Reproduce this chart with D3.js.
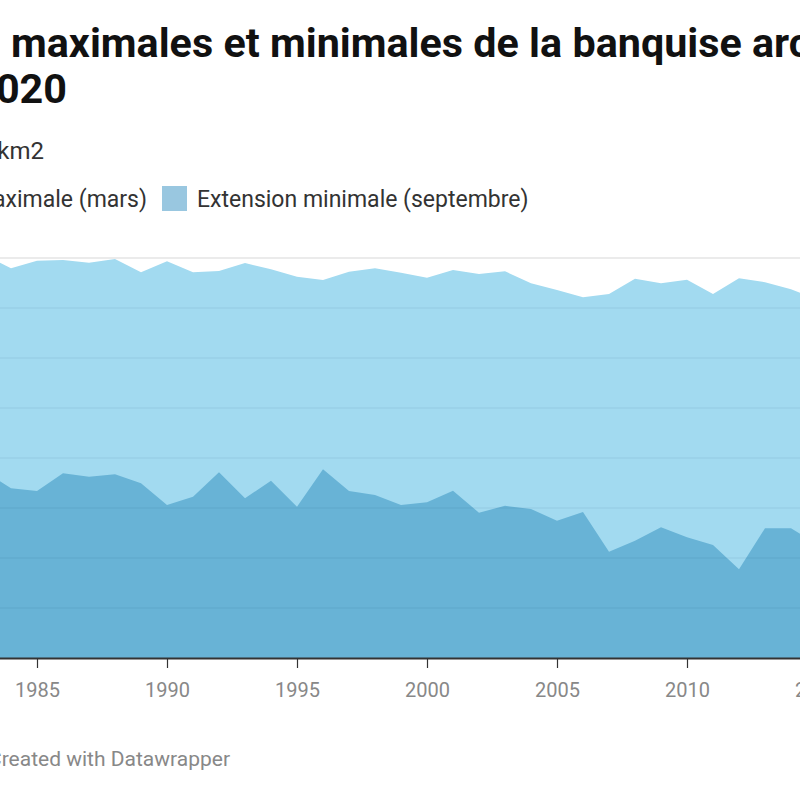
<!DOCTYPE html>
<html>
<head>
<meta charset="utf-8">
<script src="https://cdn.jsdelivr.net/npm/d3@7"></script>
<style>
  html, body { margin: 0; padding: 0; background: #fff; overflow: hidden; }
  svg { display: block; font-family: Roboto, "Noto Sans", sans-serif; }
</style>
</head>
<body>
<svg id="chart" width="800" height="800"></svg>
<script>
// Extension de la banquise arctique, millions de km2
const years = [1979, 1980, 1981, 1982, 1983, 1984, 1985, 1986, 1987, 1988, 1989,
  1990, 1991, 1992, 1993, 1994, 1995, 1996, 1997, 1998, 1999,
  2000, 2001, 2002, 2003, 2004, 2005, 2006, 2007, 2008, 2009,
  2010, 2011, 2012, 2013, 2014, 2015, 2016, 2017, 2018, 2019, 2020];

const maxMars = [16.3, 16.0, 15.6, 16.0, 16.1, 15.59, 15.89, 15.92, 15.81, 15.96, 15.43,
  15.87, 15.43, 15.48, 15.80, 15.55, 15.25, 15.12, 15.45, 15.59, 15.41,
  15.21, 15.52, 15.36, 15.47, 14.99, 14.72, 14.43, 14.56, 15.17, 14.99,
  15.13, 14.56, 15.19, 15.03, 14.75, 14.35, 14.4, 14.4, 14.5, 14.55, 14.8];

const minSept = [7.05, 7.67, 7.14, 7.30, 7.45, 6.79, 6.68, 7.39, 7.25, 7.35, 6.99,
  6.12, 6.45, 7.43, 6.39, 7.09, 6.05, 7.55, 6.68, 6.52, 6.12,
  6.23, 6.69, 5.81, 6.09, 5.96, 5.49, 5.84, 4.25, 4.69, 5.23,
  4.83, 4.52, 3.55, 5.19, 5.19, 4.56, 4.5, 4.8, 4.7, 4.3, 3.9];

const xTicks = [1980, 1985, 1990, 1995, 2000, 2005, 2010, 2015, 2020];
const yTicks = [0, 2, 4, 6, 8, 10, 12, 14, 16];

const seriesNames = ["Extension maximale (mars)", "Extension minimale (septembre)"];
const colors = ["#a2daf0", "#68b3d6"];
const legendColors = ["#c3e6f5", "#99c7e0"];

const svg = d3.select("#chart");

// the chart is wider than the window, it is seen through an 800px crop
const plot = {left: -119, right: 947, top: 258, bottom: 658};

const x = d3.scaleLinear()
  .domain([1979, 2020])
  .range([plot.left, plot.right]);

const y = d3.scaleLinear()
  .domain([0, 16])
  .range([plot.bottom, plot.top]);

const data = years.map((yr, i) => ({year: yr, max: maxMars[i], min: minSept[i]}));

// top gridline on white
svg.append("line")
  .attr("x1", plot.left).attr("x2", plot.right)
  .attr("y1", y(16)).attr("y2", y(16))
  .attr("stroke", "#e5e5e5")
  .attr("stroke-width", 1.5);

const areaMax = d3.area()
  .x(d => x(d.year))
  .y0(y(0))
  .y1(d => y(d.max));

const areaMin = d3.area()
  .x(d => x(d.year))
  .y0(y(0))
  .y1(d => y(d.min));

svg.append("path")
  .datum(data)
  .attr("d", areaMax)
  .attr("fill", colors[0]);

svg.append("path")
  .datum(data)
  .attr("d", areaMin)
  .attr("fill", colors[1]);

// gridlines drawn over the areas
svg.append("g")
  .selectAll("line")
  .data(yTicks.filter(d => d > 0 && d < 16))
  .enter().append("line")
  .attr("x1", plot.left).attr("x2", plot.right)
  .attr("y1", d => y(d)).attr("y2", d => y(d))
  .attr("stroke", "rgba(0,60,90,0.09)")
  .attr("stroke-width", 1.2);

const xAxis = d3.axisBottom(x)
  .tickValues(xTicks)
  .tickFormat(d3.format("d"))
  .tickSizeInner(10)
  .tickSizeOuter(0)
  .tickPadding(15);

const gx = svg.append("g")
  .attr("transform", "translate(0," + plot.bottom + ")")
  .call(xAxis);

gx.select(".domain").attr("stroke", "#333").attr("stroke-width", 2);
gx.selectAll(".tick line").attr("stroke", "#333").attr("stroke-width", 1.2);
gx.selectAll(".tick text")
  .attr("font-size", 20)
  .attr("font-family", "Roboto, sans-serif")
  .attr("fill", "#888");

// header
const title = svg.append("text")
  .attr("y", 57)
  .attr("font-size", 41.3)
  .attr("font-weight", 700)
  .attr("fill", "#111");
const t1 = title.append("tspan").text("Extensions ");
title.append("tspan").text("maximales et minimales de la banquise arctique");
title.attr("x", 11 - t1.node().getComputedTextLength());

svg.append("text")
  .attr("x", 67).attr("y", 103)
  .attr("text-anchor", "end")
  .attr("font-size", 41.3)
  .attr("font-weight", 700)
  .attr("fill", "#111")
  .text("de 1979 à 2020");

svg.append("text")
  .attr("x", 44).attr("y", 159)
  .attr("text-anchor", "end")
  .attr("font-size", 24)
  .attr("fill", "#333")
  .text("En millions de km2");

// legend
const leg1 = svg.append("text")
  .attr("x", 147).attr("y", 207)
  .attr("text-anchor", "end")
  .attr("font-size", 23)
  .attr("fill", "#333")
  .text(seriesNames[0]);
const leg1w = leg1.node().getComputedTextLength();

svg.append("rect")
  .attr("x", 147 - leg1w - 35).attr("y", 186)
  .attr("width", 25).attr("height", 25)
  .attr("fill", legendColors[0]);

svg.append("rect")
  .attr("x", 162).attr("y", 186)
  .attr("width", 25).attr("height", 25)
  .attr("fill", legendColors[1]);

svg.append("text")
  .attr("x", 197).attr("y", 207)
  .attr("font-size", 23)
  .attr("fill", "#333")
  .text(seriesNames[1]);

// footer
svg.append("text")
  .attr("x", 230).attr("y", 766)
  .attr("text-anchor", "end")
  .attr("font-size", 21)
  .attr("fill", "#888")
  .text("Source : NSIDC • Created with Datawrapper");
</script>
</body>
</html>
